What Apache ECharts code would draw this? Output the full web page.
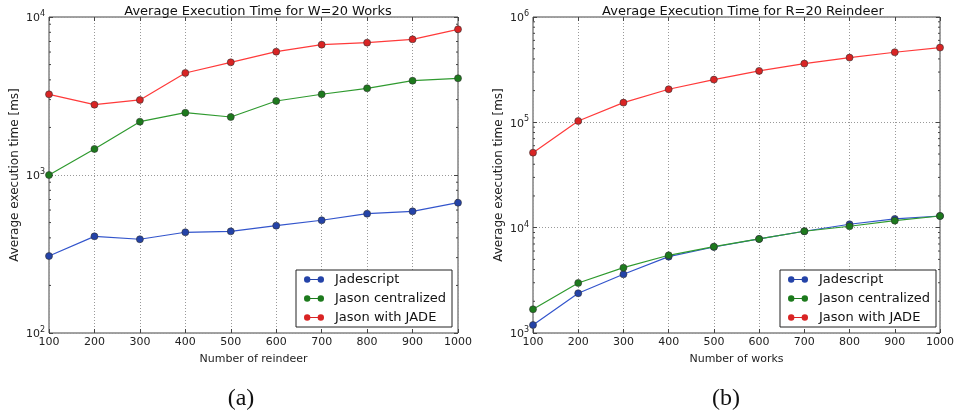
<!DOCTYPE html>
<html>
<head>
<meta charset="utf-8">
<script src="https://cdn.jsdelivr.net/npm/echarts@6/dist/echarts.min.js"></script>
<style>html,body{margin:0;padding:0;background:#fff;}#c{width:957px;height:414px;}</style>
</head>
<body>
<div id="c"></div>
<script>
const xValues = [100, 200, 300, 400, 500, 600, 700, 800, 900, 1000];
const seriesNames = ['Jadescript', 'Jason centralized', 'Jason with JADE'];
// (a) W=20 works, x = number of reindeer
const aJadescript = [307, 409, 392, 434, 440, 478, 517, 569, 589, 668];
const aJasonCentral = [1000, 1461, 2175, 2479, 2328, 2940, 3243, 3538, 3953, 4093];
const aJasonJade = [3240, 2786, 2985, 4424, 5166, 6034, 6683, 6880, 7225, 8357];
// (b) R=20 reindeer, x = number of works
const bJadescript = [1191, 2383, 3608, 5306, 6556, 7812, 9245, 10770, 12100, 12910];
const bJasonCentral = [1679, 2985, 4170, 5467, 6606, 7812, 9245, 10310, 11660, 12910];
const bJasonJade = [51560, 103000, 153900, 206000, 254500, 307600, 360900, 411700, 463000, 512400];
const titles = ['Average Execution Time for W=20 Works', 'Average Execution Time for R=20 Reindeer'];
const xNames = ['Number of reindeer', 'Number of works'];
const yName = 'Average execution time [ms]';
const captions = ['(a)', '(b)'];
const yRanges = [[100, 10000], [1000, 1000000]];

const lineColors = ['#3355cc', '#2f9a2f', '#ff3a3a'];
const markColors = ['#2443a8', '#1d7a1d', '#d92424'];
const font = 'DejaVu Sans';

function minorValues(r) {
  const out = [];
  for (let d = r[0]; d < r[1]; d *= 10) for (let k = 2; k <= 9; k++) out.push(d * k);
  return out;
}

const grids = [
  {left: 49, top: 17, width: 409, height: 316, show: true, borderColor: '#444', borderWidth: 1},
  {left: 533, top: 17, width: 410, height: 316, show: true, borderColor: '#444', borderWidth: 1}
];

const xAxis = [], yAxis = [], series = [];
const data = [[aJadescript, aJasonCentral, aJasonJade], [bJadescript, bJasonCentral, bJasonJade]];

for (let g = 0; g < 2; g++) {
  xAxis.push({
    type: 'value', gridIndex: g, min: 100, max: 1000, interval: 100,
    name: xNames[g], nameLocation: 'middle', nameGap: 21,
    nameTextStyle: {fontFamily: font, fontSize: 11, color: '#222'},
    axisLine: {show: false},
    axisTick: {inside: true, length: 4, lineStyle: {color: '#444'}},
    axisLabel: {fontFamily: font, fontSize: 11, color: '#222', margin: 4, formatter: v => String(v)},
    splitLine: {show: true, lineStyle: {type: [1, 2], color: '#999'}}
  });
  xAxis.push({
    type: 'value', gridIndex: g, min: 100, max: 1000, interval: 100, position: 'top',
    axisLine: {show: false}, axisLabel: {show: false},
    axisTick: {inside: true, length: 4, lineStyle: {color: '#444'}},
    splitLine: {show: false}
  });
  yAxis.push({
    type: 'log', logBase: 10, gridIndex: g, min: yRanges[g][0], max: yRanges[g][1],
    name: yName, nameLocation: 'middle', nameGap: 28,
    nameTextStyle: {fontFamily: font, fontSize: 12, color: '#222'},
    axisLine: {show: false},
    axisTick: {inside: true, length: 4, lineStyle: {color: '#444'}},
    axisLabel: {
      margin: 4, fontFamily: font, color: '#222',
      formatter: v => '{b|10}{s|' + Math.round(Math.log10(v)) + '}',
      rich: {b: {fontSize: 11, fontFamily: font, color: '#222', verticalAlign: 'bottom', lineHeight: 14},
             s: {fontSize: 8, fontFamily: font, color: '#222', verticalAlign: 'top', lineHeight: 14}}
    },
    splitLine: {show: true, lineStyle: {type: [1, 2], color: '#999'}}
  });
  yAxis.push({
    type: 'log', logBase: 10, gridIndex: g, min: yRanges[g][0], max: yRanges[g][1], position: 'right',
    axisLine: {show: false}, axisLabel: {show: false},
    axisTick: {inside: true, length: 4, lineStyle: {color: '#444'}},
    splitLine: {show: false}
  });
  for (let s = 0; s < 3; s++) {
    series.push({
      type: 'line', name: seriesNames[s], xAxisIndex: 2 * g, yAxisIndex: 2 * g,
      data: xValues.map((x, i) => [x, data[g][s][i]]),
      symbol: 'circle', symbolSize: 7, z: 3 + s,
      lineStyle: {color: lineColors[s], width: 1.2},
      itemStyle: {color: markColors[s], borderColor: '#333', borderWidth: 0.6},
      emphasis: {disabled: true}, animation: false
    });
  }
  const xr = [100, 1000];
  series.push({
    type: 'custom', xAxisIndex: 2 * g, yAxisIndex: 2 * g, silent: true, animation: false, z: 2,
    data: minorValues(yRanges[g]),
    renderItem: function (params, api) {
      const v = api.value(0);
      const p1 = api.coord([xr[0], v]);
      const p2 = api.coord([xr[1], v]);
      return {type: 'group', children: [
        {type: 'line', shape: {x1: p1[0], y1: p1[1], x2: p1[0] + 2, y2: p1[1]}, style: {stroke: '#444', lineWidth: 1}},
        {type: 'line', shape: {x1: p2[0] - 2, y1: p2[1], x2: p2[0], y2: p2[1]}, style: {stroke: '#444', lineWidth: 1}}
      ]};
    },
    encode: {y: 0}
  });
}

const legendIcon = 'path://M0,3.5A3.5,3.5 0 1,1 7,3.5A3.5,3.5 0 1,1 0,3.5Z M6,3 L16,3 L16,4 L6,4Z M15,3.5A3.5,3.5 0 1,1 22,3.5A3.5,3.5 0 1,1 15,3.5Z';
function legend(right) {
  return {
    data: seriesNames, orient: 'vertical', right: right, bottom: 87,
    icon: legendIcon, itemWidth: 20, itemHeight: 7, itemGap: 6,
    itemStyle: {borderWidth: 0},
    backgroundColor: '#fff', borderColor: '#222', borderWidth: 1, borderRadius: 0,
    padding: [3, 6, 3, 8],
    textStyle: {fontFamily: font, fontSize: 13, color: '#111', padding: [0, 0, 0, 6]},
    selectedMode: false
  };
}

const option = {
  animation: false,
  backgroundColor: '#fff',
  title: [
    {text: titles[0], left: 253, top: 0, textAlign: 'center', textStyle: {fontFamily: font, fontSize: 13, fontWeight: 'normal', color: '#111'}},
    {text: titles[1], left: 738, top: 0, textAlign: 'center', textStyle: {fontFamily: font, fontSize: 13, fontWeight: 'normal', color: '#111'}},
    {text: captions[0], left: 236, top: 382, textAlign: 'center', textStyle: {fontFamily: 'Liberation Serif', fontSize: 24, fontWeight: 'normal', color: '#111'}},
    {text: captions[1], left: 721, top: 382, textAlign: 'center', textStyle: {fontFamily: 'Liberation Serif', fontSize: 24, fontWeight: 'normal', color: '#111'}}
  ],
  legend: [legend(505), legend(21)],
  grid: grids,
  xAxis: xAxis,
  yAxis: yAxis,
  series: series
};

const chart = echarts.init(document.getElementById('c'), null, {renderer: 'canvas'});
chart.setOption(option);
</script>
</body>
</html>
